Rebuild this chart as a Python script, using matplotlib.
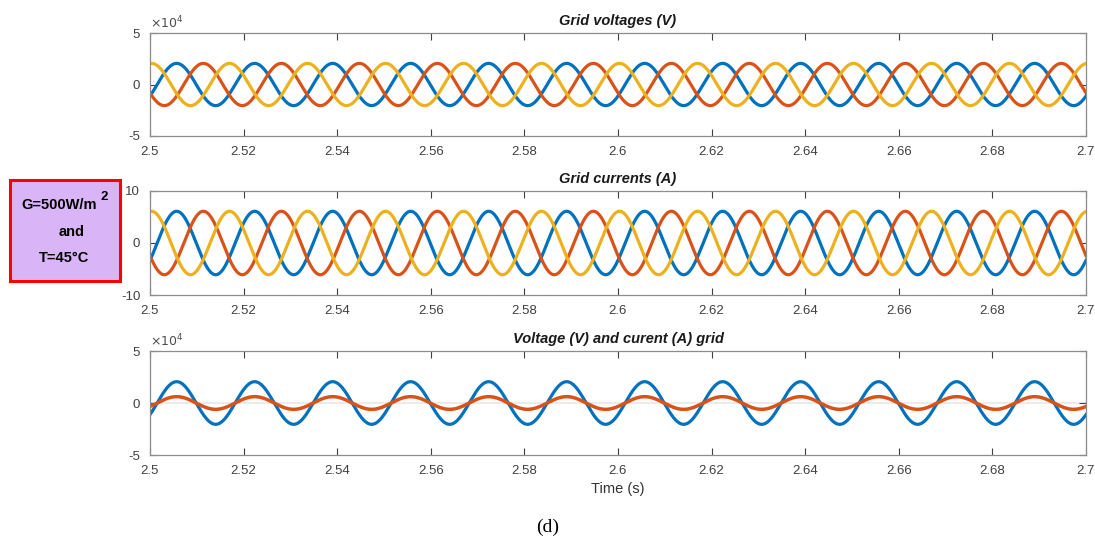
import numpy as np
import matplotlib
matplotlib.use("Agg")
import matplotlib.pyplot as plt
from matplotlib.patches import Rectangle

plt.rcParams['font.family'] = ['Liberation Sans', 'DejaVu Sans']

# values
T_START, T_END = 2.5, 2.7
freq = 60.0                                   # Hz, 12 cycles in 0.2 s
phase_names = ['a', 'b', 'c']
phase_peak_times = [2.5057, 2.5114, 2.5170]   # time of first crest of each phase
volt_amp = [2.05e4, 2.05e4, 2.05e4]           # V
curr_amp = [6.1, 6.1, 6.1]                    # A
curr_scale = 1000                             # current shown x1000 in last panel

xticks = [2.5, 2.52, 2.54, 2.56, 2.58, 2.6, 2.62, 2.64, 2.66, 2.68, 2.7]
xtick_labels = ['2.5', '2.52', '2.54', '2.56', '2.58', '2.6', '2.62', '2.64', '2.66', '2.68', '2.7']
colors = ['#0072BD', '#D95319', '#EDB120']

t = np.linspace(T_START, T_END, 4000)

def wave(amp, t_peak):
    return amp * np.cos(2 * np.pi * freq * (t - t_peak))

fig = plt.figure(figsize=(10.95, 5.43), dpi=100)
W, H = 1095, 543

def make_ax(top_px, bot_px):
    ax = fig.add_axes([150 / W, 1 - bot_px / H, 936 / W, (bot_px - top_px) / H])
    ax.set_xlim(T_START, T_END)
    ax.set_xticks(xticks)
    ax.set_xticklabels(xtick_labels)
    ax.tick_params(direction='in', top=True, right=True, labelsize=9.5,
                   colors='#404040', length=5, width=0.8, pad=7)
    for s in ax.spines.values():
        s.set_color('#8c8c8c')
        s.set_linewidth(0.9)
    return ax

def title(ax, txt):
    ax.set_title(txt, fontsize=10.5, fontweight='bold', fontstyle='italic',
                 color='#1a1a1a', pad=6)

def exp_label(ax):
    ax.text(0.0, 1.02, r'$\times10^{4}$', transform=ax.transAxes, fontsize=9,
            color='#4d4d4d', ha='left', va='bottom')

# grid voltages
ax1 = make_ax(33, 136)
for i in range(3):
    ax1.plot(t, wave(volt_amp[i], phase_peak_times[i]), color=colors[i], lw=2.3)
ax1.set_ylim(-5e4, 5e4)
ax1.set_yticks([-5e4, 0, 5e4])
ax1.set_yticklabels(['-5', '0', '5'])
exp_label(ax1)
title(ax1, 'Grid voltages (V)')

# grid currents
ax2 = make_ax(191, 295)
for i in range(3):
    ax2.plot(t, wave(curr_amp[i], phase_peak_times[i]), color=colors[i], lw=2.3)
ax2.set_ylim(-10, 10)
ax2.set_yticks([-10, 0, 10])
ax2.set_yticklabels(['-10', '0', '10'])
title(ax2, 'Grid currents (A)')

# voltage and current of one phase
ax3 = make_ax(351, 455)
ax3.axhline(0, color='#e8e8e8', lw=1.2, zorder=1)
ax3.plot(t, wave(volt_amp[0], phase_peak_times[0]), color=colors[0], lw=2.3)
ax3.plot(t, wave(curr_amp[0] * curr_scale, phase_peak_times[0]), color=colors[1], lw=2.5)
ax3.set_ylim(-5e4, 5e4)
ax3.set_yticks([-5e4, 0, 5e4])
ax3.set_yticklabels(['-5', '0', '5'])
exp_label(ax3)
title(ax3, 'Voltage (V) and curent (A) grid')
ax3.set_xlabel('Time (s)', fontsize=10.5, color='#333333', labelpad=4)

# condition box
fig.patches.append(Rectangle((10 / W, 1 - 281 / H), 110 / W, 101 / H,
                             transform=fig.transFigure, facecolor='#d9b5f7',
                             edgecolor='#ff0000', lw=2.2))
fig.text(59 / W, 1 - 205 / H, 'G=500W/m', ha='center', va='center',
         fontsize=10.5, fontweight='bold')
fig.text(104 / W, 1 - 197 / H, '2', ha='center', va='center',
         fontsize=9.5, fontweight='bold')
fig.text(72 / W, 1 - 232 / H, 'and', ha='center', va='center',
         fontsize=10.5, fontweight='bold')
fig.text(64 / W, 1 - 258 / H, 'T=45°C', ha='center', va='center',
         fontsize=10.5, fontweight='bold')

fig.text(548 / W, 1 - 527 / H, '(d)', ha='center', va='center',
         fontsize=14, family=['Liberation Serif', 'DejaVu Serif'])

fig.savefig('out.png', dpi=100)
